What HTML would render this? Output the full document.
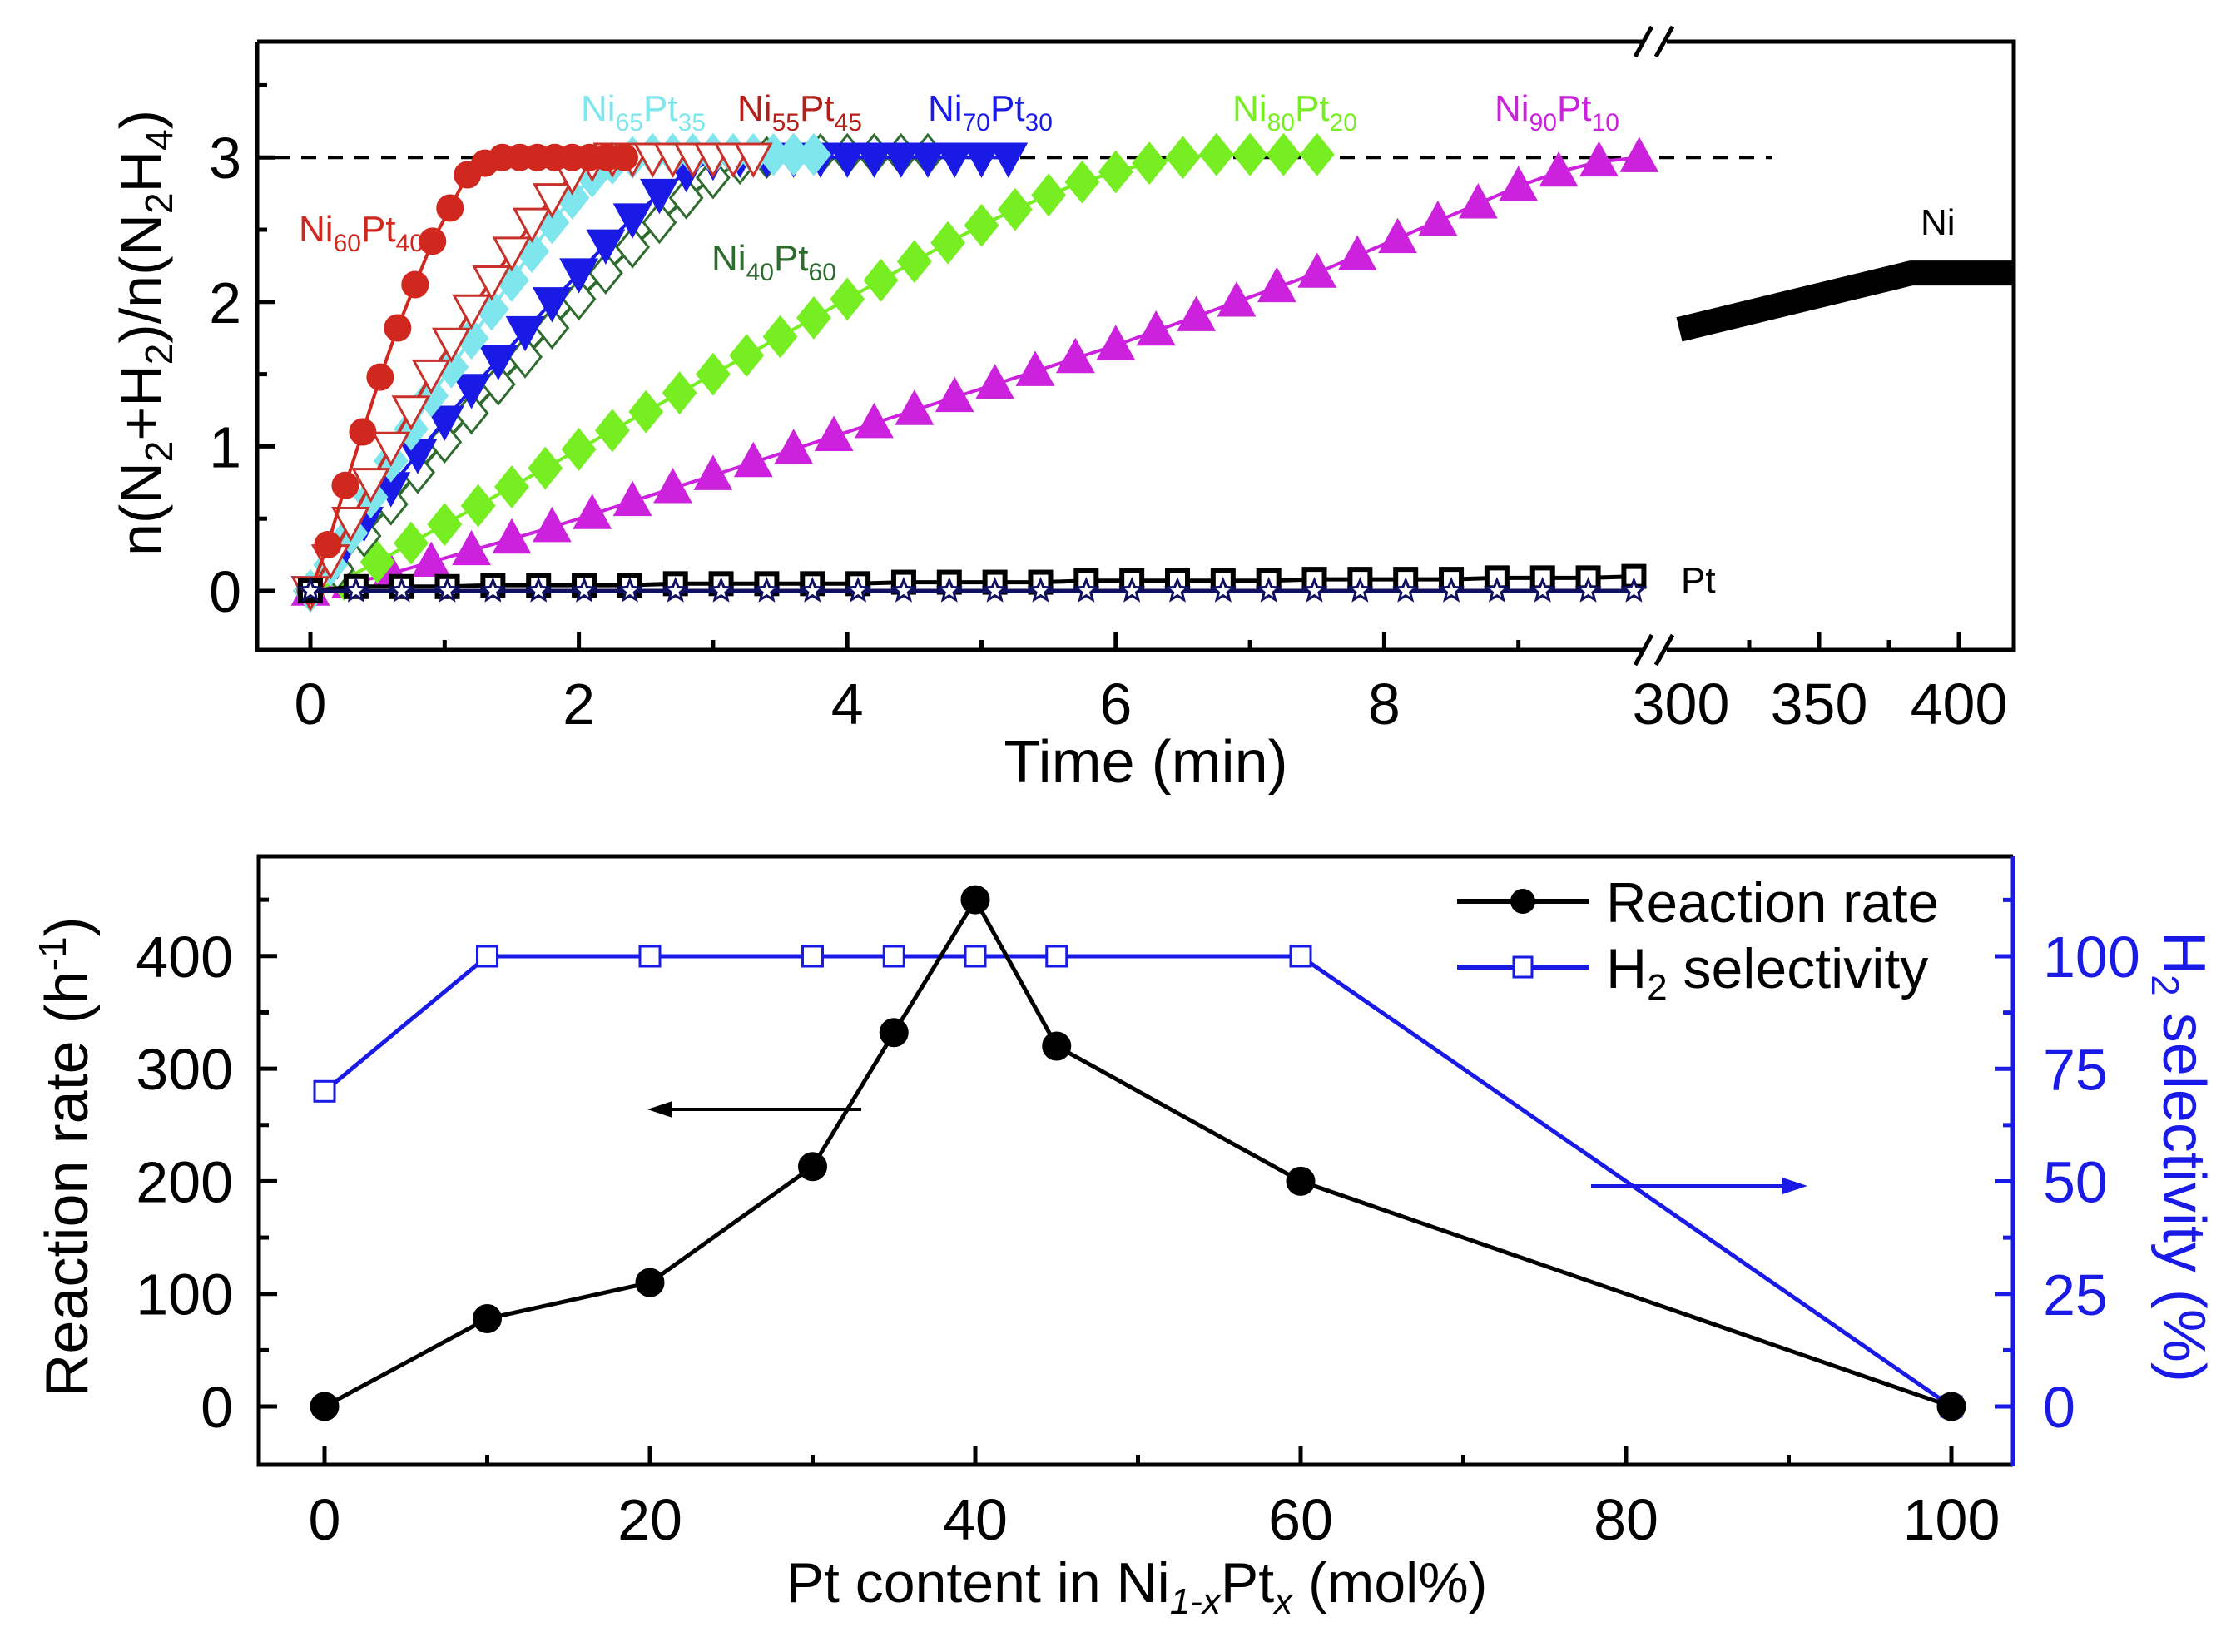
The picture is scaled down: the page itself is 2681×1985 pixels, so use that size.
<!DOCTYPE html>
<html><head><meta charset="utf-8"><style>
html,body{margin:0;padding:0;background:#fff;}
svg{display:block;font-family:"Liberation Sans",Arial,sans-serif;}
</style></head><body>
<svg id="chart" width="2681" height="1985" viewBox="0 0 2681 1985" xmlns="http://www.w3.org/2000/svg">
<rect x="0" y="0" width="2681" height="1985" fill="#fff"/>
<g id="top-panel"></g>
<g id="bottom-panel"></g>
</svg>
<script>
// ---------- TOP PANEL DATA ----------
const tRed = [0,0.13,0.26,0.39,0.52,0.65,0.78,0.91,1.04,1.17,1.3,1.43,1.56,1.69,1.82,1.95,2.08,2.21,2.34];
const yRed = [0,0.32,0.73,1.1,1.48,1.82,2.12,2.42,2.65,2.88,2.96,3,3,3,3,3,3,3,3];
const tCyan = [0,0.15,0.3,0.45,0.6,0.75,0.9,1.05,1.2,1.35,1.5,1.65,1.8,1.95,2.1,2.25,2.4,2.55,2.7,2.85,3.0,3.15,3.3,3.45,3.6,3.75];
const yCyan = [0,0.18,0.4,0.65,0.9,1.12,1.35,1.55,1.75,1.95,2.15,2.35,2.55,2.72,2.87,2.96,3,3.02,3.02,3.02,3.02,3.02,3.02,3.02,3.02,3.02];
const tOpenRed = [0,0.15,0.3,0.45,0.6,0.75,0.9,1.05,1.2,1.35,1.5,1.65,1.8,1.95,2.1,2.25,2.4,2.55,2.7,2.85,3.0,3.15,3.3];
const yOpenRed = [0,0.22,0.48,0.75,1.0,1.25,1.5,1.72,1.95,2.15,2.35,2.55,2.72,2.88,2.97,3,3,3,3,3,3,3,3];
const tBlue = [0,0.2,0.4,0.6,0.8,1.0,1.2,1.4,1.6,1.8,2.0,2.2,2.4,2.6,2.8,3.0,3.2,3.4,3.6,3.8,4.0,4.2,4.4,4.6,4.8,5.0,5.2];
const yBlue = [0,0.22,0.48,0.72,0.95,1.18,1.4,1.6,1.8,2.0,2.2,2.4,2.58,2.75,2.9,2.98,3,3,3,3,3,3,3,3,3,3,3];
const tDkGreen = [0,0.2,0.4,0.6,0.8,1.0,1.2,1.4,1.6,1.8,2.0,2.2,2.4,2.6,2.8,3.0,3.2,3.4,3.6,3.8,4.0,4.2,4.4,4.6];
const yDkGreen = [0,0.15,0.38,0.6,0.82,1.03,1.23,1.43,1.62,1.82,2.02,2.2,2.38,2.55,2.72,2.86,2.96,3,3.02,3.02,3.02,3.02,3.02,3.02];
const tGreen = [0,0.25,0.5,0.75,1,1.25,1.5,1.75,2,2.25,2.5,2.75,3,3.25,3.5,3.75,4,4.25,4.5,4.75,5,5.25,5.5,5.75,6,6.25,6.5,6.75,7,7.25,7.5];
const yGreen = [0,0.08,0.2,0.33,0.46,0.59,0.72,0.85,0.98,1.11,1.24,1.37,1.5,1.63,1.76,1.89,2.02,2.15,2.28,2.41,2.53,2.64,2.74,2.83,2.9,2.96,3,3.02,3.02,3.02,3.02];
const tMag = [0,0.3,0.6,0.9,1.2,1.5,1.8,2.1,2.4,2.7,3.0,3.3,3.6,3.9,4.2,4.5,4.8,5.1,5.4,5.7,6.0,6.3,6.6,6.9,7.2,7.5,7.8,8.1,8.4,8.7,9.0,9.3,9.6,9.9];
const yMag = [0,0.05,0.12,0.2,0.28,0.36,0.44,0.53,0.62,0.71,0.8,0.89,0.98,1.07,1.16,1.25,1.34,1.43,1.52,1.61,1.7,1.8,1.9,2.0,2.1,2.2,2.32,2.44,2.56,2.68,2.8,2.9,2.97,3.0];
const tPt = [0,0.34,0.68,1.02,1.36,1.7,2.04,2.38,2.72,3.06,3.4,3.74,4.08,4.42,4.76,5.1,5.44,5.78,6.12,6.46,6.8,7.14,7.48,7.82,8.16,8.5,8.84,9.18,9.52,9.86];
const yPtSq = [0,0.03,0.03,0.03,0.04,0.04,0.04,0.04,0.05,0.05,0.05,0.05,0.05,0.06,0.06,0.06,0.06,0.07,0.07,0.07,0.07,0.07,0.08,0.08,0.08,0.08,0.09,0.09,0.09,0.1];
const yPtStar = [0,0,0,0,0,0,0,0,0,0,0,0,0,0,0,0,0,0,0,0,0,0,0,0,0,0,0,0,0,0];
const tNi = [300,383,420];
const yNi = [1.81,2.2,2.2];
const topYTicks = [0,1,2,3];
const topXTicksL = [0,2,4,6,8];
const topXTicksR = [300,350,400];

// ---------- BOTTOM PANEL DATA ----------
const ptContent = [0,10,20,30,35,40,45,60,100];
const reactionRate = [0,78,110,213,332,450,320,200,0];
const h2Selectivity = [70,100,100,100,100,100,100,100,0];
const leftTicks = [0,100,200,300,400];
const rightTicks = [0,25,50,75,100];
const xTicksB = [0,20,40,60,80,100];

const NS = "http://www.w3.org/2000/svg";
function el(tag, attrs, parent){
  const e = document.createElementNS(NS, tag);
  for (const k in attrs) e.setAttribute(k, attrs[k]);
  parent.appendChild(e);
  return e;
}
const xL = t => 373 + t*161.3;
const xR = t => 2018 + (t-300)*3.36;
const yTop = v => 710 - v*173.6;
const xB = p => 390 + p*19.55;
const yBL = r => 1690 - r*1.353;
const yBR = s => 1690 - s*5.41;

const gTop = document.getElementById('top-panel');
const gBot = document.getElementById('bottom-panel');

let fr = el('path', {d:'M309 50 H1975 M2003 50 H2420 V781 H2003 M1975 781 H309 V50', fill:'none', stroke:'#000', 'stroke-width':5}, gTop);


let brk = el('path', {d:'M1965 68 L1985 32 M1990 68 L2010 32 M1965 799 L1985 763 M1990 799 L2010 763', stroke:'#000', 'stroke-width':5, fill:'none'}, gTop);



for (let v = 0; v <= 3.5; v += 0.5) {
  const major = Number.isInteger(v);
  const tk = el('line', {x1:309, x2:309+(major?22:12), y1:yTop(v), y2:yTop(v), stroke:'#000','stroke-width':5}, gTop);
  
  
}
topYTicks.forEach(v => {
  const tx = el('text', {x:290, y:yTop(v)+25, 'text-anchor':'end', 'font-size':70}, gTop);
  tx.textContent = v;
  
  
});
for (let t = 0; t <= 9; t++) {
  const major = t % 2 === 0;
  const tk = el('line', {x1:xL(t), x2:xL(t), y1:781, y2:781-(major?22:12), stroke:'#000','stroke-width':5}, gTop);
  
  
}
topXTicksL.forEach(t => {
  const tx = el('text', {x:xL(t), y:870, 'text-anchor':'middle', 'font-size':70}, gTop);
  tx.textContent = t;
  
  
});
[325,350,375,400].forEach(t => {
  const major = t % 50 === 0;
  const tk = el('line', {x1:xR(t), x2:xR(t), y1:781, y2:781-(major?22:12), stroke:'#000','stroke-width':5}, gTop);
  
  
});
topXTicksR.forEach(t => {
  const tx = el('text', {x:xR(t)+(t===300?2:0), y:870, 'text-anchor':'middle', 'font-size':70}, gTop);
  tx.textContent = t;
  
  
});
let xt = el('text', {x:1377, y:940, 'text-anchor':'middle', 'font-size':72}, gTop);
xt.textContent = 'Time (min)';


let yt = el('text', {x:0, y:0, 'text-anchor':'middle', 'font-size':70, transform:'translate(193,400) rotate(-90)'}, gTop);
yt.innerHTML = 'n(N<tspan font-size="46" dy="14">2</tspan><tspan dy="-14">+H</tspan><tspan font-size="46" dy="14">2</tspan><tspan dy="-14">)/n(N</tspan><tspan font-size="46" dy="14">2</tspan><tspan dy="-14">H</tspan><tspan font-size="46" dy="14">4</tspan><tspan dy="-14">)</tspan>';



let dl = el('line', {x1:330, x2:2130, y1:yTop(3), y2:yTop(3), stroke:'#000','stroke-width':4,'stroke-dasharray':'18 14'}, gTop);



function marker(g, shape, cx, cy, s, fill, stroke, sw){
  let m;
  const w = sw || 3;
  if (shape === 'circle') m = el('circle', {cx, cy, r:s/2, fill, stroke, 'stroke-width':w}, g);
  else if (shape === 'square') m = el('rect', {x:cx-s/2, y:cy-s/2, width:s, height:s, fill, stroke, 'stroke-width':w}, g);
  else if (shape === 'diamond') m = el('path', {d:`M${cx} ${cy-s*0.62} L${cx+s*0.5} ${cy} L${cx} ${cy+s*0.62} L${cx-s*0.5} ${cy}Z`, fill, stroke, 'stroke-width':w}, g);
  else if (shape === 'up') m = el('path', {d:`M${cx} ${cy-s*0.6} L${cx+s*0.58} ${cy+s*0.45} L${cx-s*0.58} ${cy+s*0.45}Z`, fill, stroke, 'stroke-width':w}, g);
  else if (shape === 'down') m = el('path', {d:`M${cx} ${cy+s*0.6} L${cx+s*0.58} ${cy-s*0.45} L${cx-s*0.58} ${cy-s*0.45}Z`, fill, stroke, 'stroke-width':w}, g);
  else if (shape === 'star') {
    let d = '';
    for (let i = 0; i < 10; i++) {
      const a = -Math.PI/2 + i*Math.PI/5, rr = i%2 ? s*0.22 : s*0.5;
      d += (i ? 'L' : 'M') + (cx + rr*Math.cos(a)).toFixed(1) + ' ' + (cy + rr*Math.sin(a)).toFixed(1);
    }
    m = el('path', {d:d+'Z', fill, stroke, 'stroke-width':w}, g);
  }
  return m;
}
function series(parent, name, ts, ys, xf, yf, color, shape, size, fill, lw, sw){
  const g = el('g', {}, parent);
  
  
  const pts = ts.map((t,i) => xf(t).toFixed(1) + ',' + yf(ys[i]).toFixed(1)).join(' ');
  const pl = el('polyline', {points:pts, fill:'none', stroke:color, 'stroke-width':lw||4, 'stroke-linejoin':'round'}, g);
  
  
  if (shape) ts.forEach((t,i) => {
    const m = marker(g, shape, xf(t), yf(ys[i]), size, fill, color, sw);
    
    
  });
  return g;
}
series(gTop, 'series-ni90pt10', tMag, yMag, xL, yTop, '#cc22dd', 'up', 36, '#cc22dd');
series(gTop, 'series-ni80pt20', tGreen, yGreen, xL, yTop, '#77ee22', 'diamond', 38, '#77ee22');
series(gTop, 'series-ni40pt60', tDkGreen, yDkGreen, xL, yTop, '#2e6b2e', 'diamond', 38, '#fff');
series(gTop, 'series-ni70pt30', tBlue, yBlue, xL, yTop, '#1a1ae6', 'down', 36, '#1a1ae6');
series(gTop, 'series-ni65pt35', tCyan, yCyan, xL, yTop, '#7fe6ee', 'diamond', 38, '#7fe6ee');
series(gTop, 'series-ni55pt45', tOpenRed, yOpenRed, xL, yTop, '#c8302a', 'down', 36, '#fff');
series(gTop, 'series-ni60pt40', tRed, yRed, xL, yTop, '#d0281e', 'circle', 30, '#d0281e');
series(gTop, 'series-pt-square', tPt, yPtSq, xL, yTop, '#000', 'square', 24, '#fff', 5, 6);
series(gTop, 'series-pt-star', tPt, yPtStar, xL, yTop, '#101060', 'star', 26, '#fff', 5);
series(gTop, 'series-ni', tNi, yNi, xR, yTop, '#000', null, 0, null, 30);

const labels = [
  ['label-ni60pt40','Ni','60','Pt','40',359,290,'#d0281e'],
  ['label-ni65pt35','Ni','65','Pt','35',698,145,'#7fe6ee'],
  ['label-ni55pt45','Ni','55','Pt','45',886,145,'#b3201a'],
  ['label-ni70pt30','Ni','70','Pt','30',1115,145,'#1a1ae6'],
  ['label-ni40pt60','Ni','40','Pt','60',855,325,'#2e6b2e'],
  ['label-ni80pt20','Ni','80','Pt','20',1481,145,'#77ee22'],
  ['label-ni90pt10','Ni','90','Pt','10',1796,145,'#cc22dd']
];
labels.forEach(l => {
  const tx = el('text', {x:l[5], y:l[6], 'font-size':44, fill:l[7]}, gTop);
  tx.innerHTML = `${l[1]}<tspan font-size="30" dy="12">${l[2]}</tspan><tspan dy="-12">${l[3]}</tspan><tspan font-size="30" dy="12">${l[4]}</tspan>`;
  
  
});
let niL = el('text', {x:2308, y:282, 'font-size':44}, gTop);
niL.textContent = 'Ni';


let ptL = el('text', {x:2020, y:712, 'font-size':44}, gTop);
ptL.textContent = 'Pt';



// ---- Bottom panel ----
let bf = el('path', {d:'M2419 1029 H311 V1760 H2419', fill:'none', stroke:'#000', 'stroke-width':5}, gBot);


let ra = el('line', {x1:2419, x2:2419, y1:1029, y2:1762, stroke:'#1a1ae6', 'stroke-width':5}, gBot);


for (let r = 0; r <= 450; r += 50) {
  const major = r % 100 === 0;
  const tk = el('line', {x1:311, x2:311+(major?22:12), y1:yBL(r), y2:yBL(r), stroke:'#000', 'stroke-width':5}, gBot);
  
  
}
leftTicks.forEach(r => {
  const tx = el('text', {x:280, y:yBL(r)+25, 'text-anchor':'end', 'font-size':70}, gBot);
  tx.textContent = r;
  
  
});
for (let s = 0; s <= 112.5; s += 12.5) {
  const major = s % 25 === 0;
  const tk = el('line', {x1:2419, x2:2419-(major?22:12), y1:yBR(s), y2:yBR(s), stroke:'#1a1ae6', 'stroke-width':5}, gBot);
  
  
}
rightTicks.forEach(s => {
  const tx = el('text', {x:2455, y:yBR(s)+25, 'font-size':70, fill:'#1a1ae6'}, gBot);
  tx.textContent = s;
  
  
});
for (let p = 0; p <= 100; p += 10) {
  const major = p % 20 === 0;
  const tk = el('line', {x1:xB(p), x2:xB(p), y1:1760, y2:1760-(major?22:12), stroke:'#000', 'stroke-width':5}, gBot);
  
  
}
xTicksB.forEach(p => {
  const tx = el('text', {x:xB(p), y:1850, 'text-anchor':'middle', 'font-size':70}, gBot);
  tx.textContent = p;
  
  
});
let bxt = el('text', {x:1366, y:1925, 'text-anchor':'middle', 'font-size':68}, gBot);
bxt.innerHTML = 'Pt content in Ni<tspan font-size="44" dy="14" font-style="italic">1-x</tspan><tspan dy="-14">Pt</tspan><tspan font-size="44" dy="14" font-style="italic">x</tspan><tspan dy="-14"> (mol%)</tspan>';


let lyt = el('text', {x:0, y:0, 'text-anchor':'middle', 'font-size':72, transform:'translate(105,1390) rotate(-90)'}, gBot);
lyt.innerHTML = 'Reaction rate (h<tspan font-size="46" dy="-26">-1</tspan><tspan dy="26">)</tspan>';


let ryt = el('text', {x:0, y:0, 'text-anchor':'middle', 'font-size':72, fill:'#1a1ae6', transform:'translate(2600,1390) rotate(90)'}, gBot);
ryt.innerHTML = 'H<tspan font-size="46" dy="14">2</tspan><tspan dy="-14"> selectivity (%)</tspan>';



series(gBot, 'series-h2-selectivity', ptContent, h2Selectivity, xB, yBR, '#1a1ae6', 'square', 24, '#fff', 5);
series(gBot, 'series-reaction-rate', ptContent, reactionRate, xB, yBL, '#000', 'circle', 32, '#000', 5);

let a1 = el('g', {}, gBot);


el('line', {x1:1035, x2:800, y1:1333, y2:1333, stroke:'#000', 'stroke-width':4}, a1);
el('path', {d:'M778 1333 L808 1323 L808 1343Z', fill:'#000'}, a1);
let a2 = el('g', {}, gBot);


el('line', {x1:1912, x2:2150, y1:1425, y2:1425, stroke:'#1a1ae6', 'stroke-width':4}, a2);
el('path', {d:'M2172 1425 L2142 1415 L2142 1435Z', fill:'#1a1ae6'}, a2);

let lg = el('g', {}, gBot);


let le1 = el('g', {}, lg);


el('line', {x1:1751, x2:1909, y1:1083, y2:1083, stroke:'#000', 'stroke-width':6}, le1);
el('circle', {cx:1830, cy:1083, r:15, fill:'#000'}, le1);
let lt1 = el('text', {x:1930, y:1108, 'font-size':68, textLength:400, lengthAdjust:'spacingAndGlyphs'}, le1);
lt1.textContent = 'Reaction rate';
let le2 = el('g', {}, lg);


el('line', {x1:1751, x2:1909, y1:1162, y2:1162, stroke:'#1a1ae6', 'stroke-width':6}, le2);
el('rect', {x:1819, y:1150, width:22, height:24, fill:'#fff', stroke:'#1a1ae6', 'stroke-width':3}, le2);
let lt2 = el('text', {x:1930, y:1187, 'font-size':68}, le2);
lt2.innerHTML = 'H<tspan font-size="44" dy="14">2</tspan><tspan dy="-14"> selectivity</tspan>';
</script>
</body></html>
